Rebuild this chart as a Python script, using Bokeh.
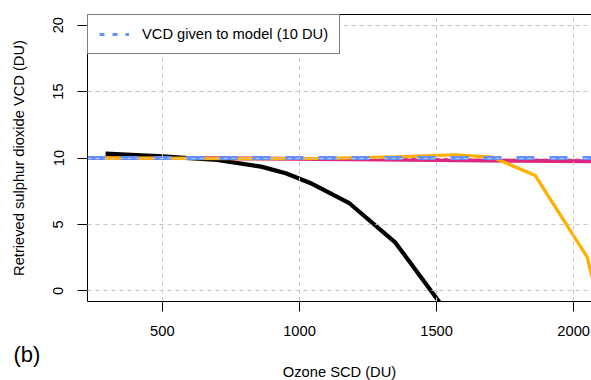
from bokeh.plotting import figure
from bokeh.models import (Span, Legend, LegendItem, LinearAxis, Range1d, Title,
                          FixedTicker, ColumnDataSource)
from bokeh.embed import file_html
from bokeh.resources import INLINE

# SO2 column given to the forward model (DU)
model_vcd = 10

# Retrieved SO2 VCD (DU) against ozone slant column (DU), three retrieval set-ups
ozone_black = [293, 500, 700, 860, 950, 1046, 1180, 1350, 1530]
vcd_black = [10.33, 10.12, 9.85, 9.35, 8.85, 8.06, 6.63, 3.63, -1.4]

ozone_pink = [293, 800, 1300, 1800, 2100]
vcd_pink = [10.05, 9.97, 9.88, 9.79, 9.74]

ozone_orange = [293, 500, 800, 1100, 1350, 1569, 1703, 1860, 2049, 2085]
vcd_orange = [10.0, 9.98, 9.95, 9.97, 10.08, 10.23, 10.07, 8.68, 2.55, -0.4]

x_ticks = [500, 1000, 1500, 2000]
y_ticks = [0, 5, 10, 15, 20]

FONT = "Liberation Sans"
FS = "14.7px"

p = figure(width=591, height=380,
           x_range=Range1d(227, 2065), y_range=Range1d(-0.8, 20.8),
           output_backend="svg", toolbar_location=None,
           min_border_left=87, min_border_right=0,
           min_border_top=14, min_border_bottom=79)
p.outline_line_color = None
p.background_fill_color = "white"
p.border_fill_color = "white"

# series
p.line(ozone_pink, vcd_pink, line_color="#DC267F", line_width=4)
span = Span(location=model_vcd, dimension="width", line_color="#648FFF",
            line_width=4, line_dash="18 15", level="glyph")
p.add_layout(span)
p.line(ozone_black, vcd_black, line_color="black", line_width=4.2)
p.line(ozone_orange, vcd_orange, line_color="#FFB000", line_width=3.3)

# grid drawn over the curves
for g, t in ((p.xgrid, x_ticks), (p.ygrid, y_ticks)):
    g.ticker = FixedTicker(ticks=t)
    g.grid_line_color = "#c4c4c4"
    g.grid_line_dash = "4 4"
    g.grid_line_width = 1
    g.level = "guide"

# axes
p.xaxis.ticker = FixedTicker(ticks=x_ticks)
p.yaxis.ticker = FixedTicker(ticks=y_ticks)
p.yaxis.axis_label = "Retrieved sulphur dioxide VCD (DU)"
p.yaxis.major_label_orientation = "vertical"
for ax in (p.xaxis[0], p.yaxis[0]):
    ax.axis_line_color = "black"
    ax.axis_line_width = 1
    ax.major_tick_line_color = "black"
    ax.major_tick_out = 10
    ax.major_tick_in = 0
    ax.minor_tick_out = 0
    ax.minor_tick_in = 0
    ax.major_label_text_font = FONT
    ax.major_label_text_font_size = FS
    ax.major_label_text_color = "black"
    ax.axis_label_text_font = FONT
    ax.axis_label_text_font_size = FS
    ax.axis_label_text_font_style = "normal"
    ax.axis_label_text_color = "black"
p.xaxis.major_label_standoff = 14
p.yaxis.major_label_standoff = 14
p.yaxis.axis_label_standoff = 24

# top edge of the plot box
top = LinearAxis(ticker=FixedTicker(ticks=[]), major_label_text_font_size="0px",
                 major_tick_out=0, major_tick_in=0, minor_tick_out=0, minor_tick_in=0,
                 major_label_standoff=0, axis_label_standoff=0,
                 axis_line_color="black", axis_line_width=1)
p.add_layout(top, "above")

# panel tag and x-axis title, stacked under the tick labels
p.add_layout(Title(text="(b)", align="left", offset=-74, standoff=2,
                   text_font=FONT, text_font_size="22px",
                   text_font_style="normal", text_color="black"), "below")
p.add_layout(Title(text="Ozone SCD (DU)", align="center", standoff=-12,
                   text_font=FONT, text_font_size=FS,
                   text_font_style="normal", text_color="black"), "below")

# legend: a one-point line carries the short-dash key style
legend_src = ColumnDataSource(data=dict(x=[ozone_black[0]], y=[model_vcd]))
legend_line = p.line("x", "y", source=legend_src, line_color="#648FFF",
                     line_width=3, line_dash="5 8")
legend = Legend(items=[LegendItem(label="VCD given to model (10 DU)",
                                  renderers=[legend_line])],
                location="top_left", margin=0, padding=11, spacing=0,
                glyph_width=30, glyph_height=14, label_height=14,
                label_standoff=13, border_line_color="black",
                border_line_width=1, background_fill_color="white",
                background_fill_alpha=1, label_text_font=FONT,
                label_text_font_size=FS, label_text_color="black")
p.add_layout(legend)

open("out.html", "w").write(file_html(p, INLINE))
